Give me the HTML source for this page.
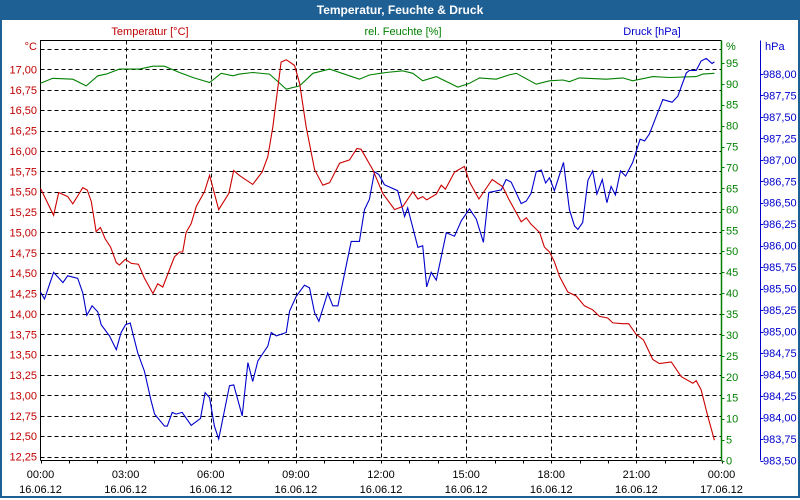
<!DOCTYPE html>
<html><head><meta charset="utf-8"><style>
body{margin:0;width:800px;height:500px;overflow:hidden;background:#fff;font-family:"Liberation Sans",sans-serif}
#frame{position:absolute;left:0;top:0;width:796px;height:496px;border:2px solid #1e5f94;border-top:none}
#title{position:absolute;left:0;top:0;width:800px;height:20px;background:#1e5f94;color:#fff;font:bold 12px "Liberation Sans",sans-serif;text-align:center;line-height:20px}
svg{position:absolute;left:0;top:0}
</style></head><body>
<div id="frame"></div>
<div id="title">Temperatur, Feuchte &amp; Druck</div>
<svg id="chart" width="800" height="500"></svg>
<script>
const tempTimes=[0,0.46,0.64,0.96,1.14,1.49,1.65,1.79,1.96,2.11,2.28,2.47,2.67,2.78,2.99,3.20,3.45,3.66,3.96,4.13,4.31,4.72,4.90,5.01,5.13,5.31,5.49,5.78,5.96,6.28,6.64,6.81,7.01,7.48,7.81,8.01,8.19,8.48,8.66,8.95,9.13,9.36,9.66,9.95,10.19,10.54,10.89,11.15,11.30,11.71,12.06,12.48,12.77,13.12,13.30,13.47,13.61,13.95,14.12,14.27,14.59,14.94,15.12,15.45,15.92,16.29,16.50,16.94,17.12,17.29,17.59,17.76,17.94,18.11,18.29,18.58,18.88,19.17,19.46,19.70,19.99,20.17,20.52,20.73,20.99,21.25,21.58,21.81,22.23,22.58,22.99,23.11,23.28,23.52,23.75];
const tempValues=[15.54,15.21,15.49,15.44,15.35,15.55,15.52,15.38,15.01,15.06,14.92,14.82,14.63,14.60,14.67,14.62,14.61,14.44,14.25,14.37,14.33,14.70,14.76,14.76,15.00,15.11,15.32,15.50,15.70,15.28,15.48,15.76,15.70,15.59,15.74,15.93,16.30,17.09,17.12,17.05,16.83,16.30,15.77,15.58,15.61,15.85,15.89,16.03,16.02,15.77,15.48,15.28,15.32,15.50,15.41,15.44,15.40,15.47,15.58,15.53,15.74,15.81,15.62,15.41,15.65,15.56,15.41,15.13,15.18,15.10,15.00,14.82,14.76,14.64,14.46,14.27,14.22,14.10,14.05,13.97,13.95,13.89,13.88,13.88,13.75,13.68,13.44,13.39,13.41,13.23,13.15,13.18,13.07,12.74,12.45];
const humTimes=[0,0.43,1.14,1.61,2.02,2.32,2.78,3.49,3.96,4.37,4.90,5.37,5.96,6.37,6.78,7.01,7.48,8.07,8.40,8.66,9.13,9.60,10.19,10.89,11.24,11.59,12.18,12.77,13.12,13.47,13.95,14.71,15.12,15.47,16.06,16.50,16.77,17.47,17.94,18.41,18.64,18.99,19.94,20.52,20.87,21.58,22.17,23.11,23.34,23.75];
const humValues=[90.1,91.3,91.1,89.5,91.9,92.3,93.5,93.5,94.2,94.2,92.7,91.5,90.3,92.5,91.9,92.3,92.7,92.3,90.3,88.7,89.5,92.5,93.5,91.9,91.1,92.1,92.7,93.1,92.5,90.7,91.7,89.2,90.1,91.4,91.1,92.1,92.5,89.9,90.7,90.9,90.5,91.4,91.1,91.4,90.7,91.7,91.5,91.7,92.3,92.5];
const presTimes=[0,0.14,0.46,0.79,0.96,1.31,1.49,1.63,1.82,2.02,2.14,2.43,2.67,2.84,3.00,3.16,3.43,3.66,3.90,4.02,4.37,4.47,4.64,4.78,4.99,5.31,5.64,5.80,5.96,6.13,6.28,6.66,6.81,7.11,7.31,7.48,7.66,8.01,8.13,8.31,8.66,8.78,9.01,9.30,9.48,9.66,9.81,10.12,10.30,10.48,10.95,11.24,11.42,11.59,11.77,11.92,12.12,12.59,12.83,12.94,13.30,13.47,13.61,13.77,13.95,14.30,14.59,14.83,15.12,15.36,15.61,15.80,16.24,16.41,16.59,16.94,17.12,17.29,17.47,17.65,17.80,17.94,18.11,18.43,18.64,18.82,18.94,19.11,19.29,19.46,19.61,19.80,19.96,20.11,20.26,20.44,20.62,20.87,21.13,21.29,21.46,21.93,22.26,22.46,22.76,22.87,23.11,23.28,23.46,23.67,23.75];
const presValues=[985.46,985.38,985.69,985.57,985.65,985.62,985.45,985.19,985.30,985.23,985.08,984.95,984.79,984.99,985.08,985.10,984.75,984.54,984.19,984.04,983.90,983.90,984.06,984.04,984.06,983.91,983.99,984.29,984.23,983.90,983.75,984.37,984.38,984.02,984.64,984.42,984.66,984.83,984.99,984.95,984.99,985.24,985.41,985.54,985.51,985.22,985.12,985.45,985.30,985.30,986.05,986.05,986.42,986.54,986.86,986.83,986.71,986.64,986.34,986.44,985.98,986.00,985.52,985.69,985.60,986.15,986.11,986.29,986.43,986.31,986.04,986.62,986.65,986.77,986.74,986.49,986.52,986.61,986.86,986.88,986.73,986.79,986.64,986.97,986.42,986.23,986.19,986.27,986.76,986.87,986.60,986.77,986.50,986.69,986.59,986.87,986.81,986.97,987.24,987.22,987.30,987.70,987.67,987.74,988.01,988.04,988.04,988.15,988.18,988.12,988.14];
const tempTicks=["12,25","12,50","12,75","13,00","13,25","13,50","13,75","14,00","14,25","14,50","14,75","15,00","15,25","15,50","15,75","16,00","16,25","16,50","16,75","17,00"];
const humTicks=["0","5","10","15","20","25","30","35","40","45","50","55","60","65","70","75","80","85","90","95"];
const presTicks=["983,50","983,75","984,00","984,25","984,50","984,75","985,00","985,25","985,50","985,75","986,00","986,25","986,50","986,75","987,00","987,25","987,50","987,75","988,00"];
const timeTicks=["00:00","03:00","06:00","09:00","12:00","15:00","18:00","21:00","00:00"];
const dateTicks=["16.06.12","16.06.12","16.06.12","16.06.12","16.06.12","16.06.12","16.06.12","16.06.12","17.06.12"];

const L=40.5,R=721.5,T=40.5,B=460.5;
const xS=h=>L+h/24*(R-L);
const yT=v=>456.5-(v-12.25)/0.25*20.37;
const yH=v=>460.5-v/5*20.93;
const yP=v=>460.5-(v-983.5)/0.25*21.48;
const svg=document.getElementById('chart');
const NS='http://www.w3.org/2000/svg';
function mk(tag,attrs,txt){const e=document.createElementNS(NS,tag);for(const k in attrs)e.setAttribute(k,attrs[k]);if(txt!==undefined)e.textContent=txt;svg.appendChild(e);return e;}
const F='"Liberation Sans",sans-serif';
// horizontal grid
for(let i=1;i<=20;i++){const v=12.25+i*0.25;const y=Math.round(yT(v))+0.5;
const g=mk('line',{x1:L,x2:R,y1:y,y2:y,stroke:'#000','stroke-dasharray':'4,3','stroke-width':1});

}
{const y=Math.round(yT(12.25))+0.5;const g=mk('line',{x1:L,x2:R,y1:y,y2:y,stroke:'#000','stroke-dasharray':'4,3'});

}
for(let i=1;i<8;i++){const x=Math.round(xS(i*3))+0.5;
const g=mk('line',{x1:x,x2:x,y1:T,y2:B,stroke:'#000','stroke-dasharray':'4,3'});

}
// axes
let a=mk('path',{d:`M${L},${B}V${T}H${R}`,stroke:'#000',fill:'none'});


a=mk('line',{x1:L,x2:R,y1:B,y2:B,stroke:'#000'});


a=mk('line',{x1:R,x2:R,y1:T,y2:B,stroke:'#008000','stroke-width':1.5});


a=mk('line',{x1:760.5,x2:760.5,y1:T,y2:B,stroke:'#0000cc'});


// x ticks & labels
for(let i=0;i<=24;i++){const x=Math.round(xS(i))+0.5;const t=mk('line',{x1:x,x2:x,y1:B,y2:B+3,stroke:'#000'});

}
timeTicks.forEach((s,i)=>{const x=xS(i*3);
const t=mk('text',{x:x,y:478,'text-anchor':'middle','font-family':F,'font-size':11,fill:'#000'},s);


const d=mk('text',{x:x,y:493,'text-anchor':'middle','font-family':F,'font-size':11,fill:'#000'},dateTicks[i]);

});
// temp labels
tempTicks.forEach((s,i)=>{const y=yT(12.25+i*0.25);
const t=mk('text',{x:37,y:y+4,'text-anchor':'end','font-family':F,'font-size':11,fill:'#c00000'},s);

});
let u=mk('text',{x:37,y:50,'text-anchor':'end','font-family':F,'font-size':11,fill:'#c00000'},'°C');


humTicks.forEach((s,i)=>{const y=yH(i*5);
const k=mk('line',{x1:R,x2:R+3,y1:Math.round(y)+0.5,y2:Math.round(y)+0.5,stroke:'#008000'});


const t=mk('text',{x:726,y:y+4,'font-family':F,'font-size':11,fill:'#008000'},s);

});
u=mk('text',{x:726,y:50,'font-family':F,'font-size':11,fill:'#008000'},'%');


presTicks.forEach((s,i)=>{const y=yP(983.5+i*0.25);
const k=mk('line',{x1:760.5,x2:763.5,y1:Math.round(y)+0.5,y2:Math.round(y)+0.5,stroke:'#0000cc'});


const t=mk('text',{x:763,y:y+4,'font-family':F,'font-size':11,fill:'#0000cc'},s);

});
u=mk('text',{x:765,y:50,'font-family':F,'font-size':11,fill:'#0000cc'},'hPa');


// series titles
let st=mk('text',{x:150,y:35,'text-anchor':'middle','font-family':F,'font-size':11,fill:'#c00000'},'Temperatur [°C]');


st=mk('text',{x:403,y:35,'text-anchor':'middle','font-family':F,'font-size':11,fill:'#008000'},'rel. Feuchte [%]');


st=mk('text',{x:652,y:35,'text-anchor':'middle','font-family':F,'font-size':11,fill:'#0000cc'},'Druck [hPa]');


// series
function line(ts,vs,yf,color){return ts.map((t,i)=>(i?'L':'M')+xS(t).toFixed(1)+','+yf(vs[i]).toFixed(1)).join('');}
let s=mk('path',{d:line(humTimes,humValues,yH),stroke:'#008000',fill:'none','stroke-width':1.1});


s=mk('path',{d:line(presTimes,presValues,yP),stroke:'#0000cc',fill:'none','stroke-width':1.1});


s=mk('path',{d:line(tempTimes,tempValues,yT),stroke:'#cc0000',fill:'none','stroke-width':1.1});


</script>
</body></html>
